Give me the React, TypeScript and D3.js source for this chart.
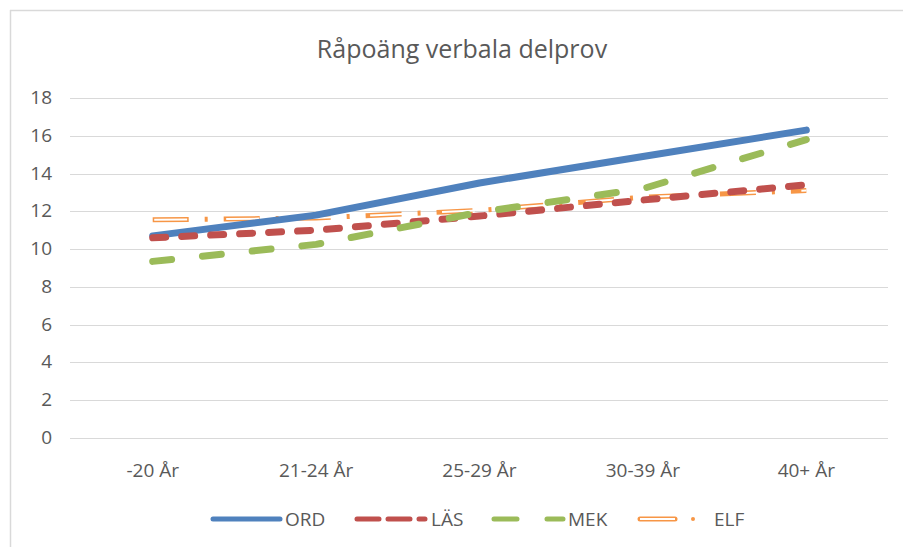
import React, { useRef, useEffect } from 'react';
import * as d3 from 'd3';

const categories = ['-20 År', '21-24 År', '25-29 År', '30-39 År', '40+ År'];
const ordValues = [10.7, 11.8, 13.5, 14.9, 16.3];
const lasValues = [10.6, 11.0, 11.75, 12.6, 13.4];
const mekValues = [9.35, 10.25, 11.95, 13.2, 15.8];
const elfValues = [11.55, 11.65, 12.05, 12.75, 13.1];
const yTicks = [0, 2, 4, 6, 8, 10, 12, 14, 16, 18];

const width = 903;
const height = 547;
const fontFamily = '"Open Sans", "Liberation Sans", sans-serif';
const textColor = '#595959';

const colors = { ORD: '#4f81bd', LAS: '#c0504d', MEK: '#9bbb59', ELF: '#f79646' };

export default function App() {
  const svgEl = useRef<SVGSVGElement>(null);

  useEffect(() => {
    const svg = d3.select(svgEl.current);
    svg.selectAll('*').remove();

    const left = 71;
    const right = 888;
    const top = 98;
    const bottom = 438;

    const xScale = d3.scaleBand().domain(categories).range([left, right]);
    const yScale = d3.scaleLinear().domain([0, 18]).range([bottom, top]);
    const xPos = (i: number) => xScale(categories[i])! + xScale.bandwidth() / 2;

    svg.append('rect').attr('width', width).attr('height', height).attr('fill', '#fff');

    // frame (only top and left visible)
    svg.append('line').attr('x1', 10).attr('x2', width).attr('y1', 10.5).attr('y2', 10.5)
      .attr('stroke', '#d9d9d9').attr('stroke-width', 1.5);
    svg.append('line').attr('x1', 10.5).attr('x2', 10.5).attr('y1', 10).attr('y2', height)
      .attr('stroke', '#d9d9d9').attr('stroke-width', 1.5);

    svg.append('text')
      .attr('x', 462).attr('y', 58)
      .attr('text-anchor', 'middle')
      .attr('font-family', fontFamily)
      .attr('font-size', 25)
      .attr('fill', textColor)
      .text('Råpoäng verbala delprov');

    const grid = svg.append('g');
    grid.selectAll('line').data(yTicks).enter().append('line')
      .attr('x1', left - 1).attr('x2', right)
      .attr('y1', (d) => Math.round(yScale(d)) + 0.5)
      .attr('y2', (d) => Math.round(yScale(d)) + 0.5)
      .attr('stroke', '#d9d9d9').attr('stroke-width', 1);

    grid.selectAll('text').data(yTicks).enter().append('text')
      .attr('x', 52).attr('y', (d) => yScale(d) + 6)
      .attr('text-anchor', 'end')
      .attr('font-family', fontFamily)
      .attr('font-size', 19)
      .attr('fill', textColor)
      .text((d) => d);

    svg.append('g').selectAll('text').data(categories).enter().append('text')
      .attr('x', (d, i) => xPos(i)).attr('y', 477)
      .attr('text-anchor', 'middle')
      .attr('font-family', fontFamily)
      .attr('font-size', 19)
      .attr('fill', textColor)
      .text((d) => d);

    const line = d3.line<number>()
      .x((d, i) => xPos(i))
      .y((d) => yScale(d));

    const plot = svg.append('g');

    // ELF drawn first (behind): double line, dash-dot
    plot.append('path').datum(elfValues).attr('d', line)
      .attr('fill', 'none').attr('stroke', colors.ELF).attr('stroke-width', 5)
      .attr('stroke-dasharray', '36 16 3 16');
    plot.append('path').datum(elfValues).attr('d', line)
      .attr('fill', 'none').attr('stroke', '#fff').attr('stroke-width', 2)
      .attr('stroke-dasharray', '0 1.5 33 37.5');

    const series = [
      { values: ordValues, color: colors.ORD, w: 7, dash: null },
      { values: lasValues, color: colors.LAS, w: 7, dash: '13 16' },
      { values: mekValues, color: colors.MEK, w: 7, dash: '19 31' },
    ];
    series.forEach((s) => {
      const p = plot.append('path').datum(s.values).attr('d', line)
        .attr('fill', 'none').attr('stroke', s.color).attr('stroke-width', s.w)
        .attr('stroke-linecap', 'round').attr('stroke-linejoin', 'round');
      if (s.dash) p.attr('stroke-dasharray', s.dash);
    });

    // legend
    const legend = svg.append('g');
    const ly = 519;
    const items = [
      { name: 'ORD', x1: 213, x2: 280, tx: 285, color: colors.ORD, dash: null },
      { name: 'LÄS', x1: 357, x2: 425, tx: 431, color: colors.LAS, dash: '22 9' },
      { name: 'MEK', x1: 494, x2: 563, tx: 568, color: colors.MEK, dash: '23 30' },
    ];
    items.forEach((it) => {
      const l = legend.append('line').attr('x1', it.x1).attr('x2', it.x2)
        .attr('y1', ly).attr('y2', ly)
        .attr('stroke', it.color).attr('stroke-width', 5).attr('stroke-linecap', 'round');
      if (it.dash) l.attr('stroke-dasharray', it.dash);
      legend.append('text').attr('x', it.tx).attr('y', ly + 7)
        .attr('font-family', fontFamily).attr('font-size', 19).attr('fill', textColor)
        .text(it.name);
    });
    legend.append('line').attr('x1', 640).attr('x2', 675).attr('y1', ly).attr('y2', ly)
      .attr('stroke', colors.ELF).attr('stroke-width', 5).attr('stroke-linecap', 'round');
    legend.append('line').attr('x1', 640).attr('x2', 675).attr('y1', ly).attr('y2', ly)
      .attr('stroke', '#fff').attr('stroke-width', 2);
    legend.append('circle').attr('cx', 693).attr('cy', ly).attr('r', 2).attr('fill', colors.ELF);
    legend.append('text').attr('x', 714).attr('y', ly + 7)
      .attr('font-family', fontFamily).attr('font-size', 19).attr('fill', textColor)
      .text('ELF');
  }, []);

  return (
    <svg ref={svgEl} width={width} height={height}
      style={{ position: 'absolute', left: 0, top: 0, display: 'block' }} />
  );
}
